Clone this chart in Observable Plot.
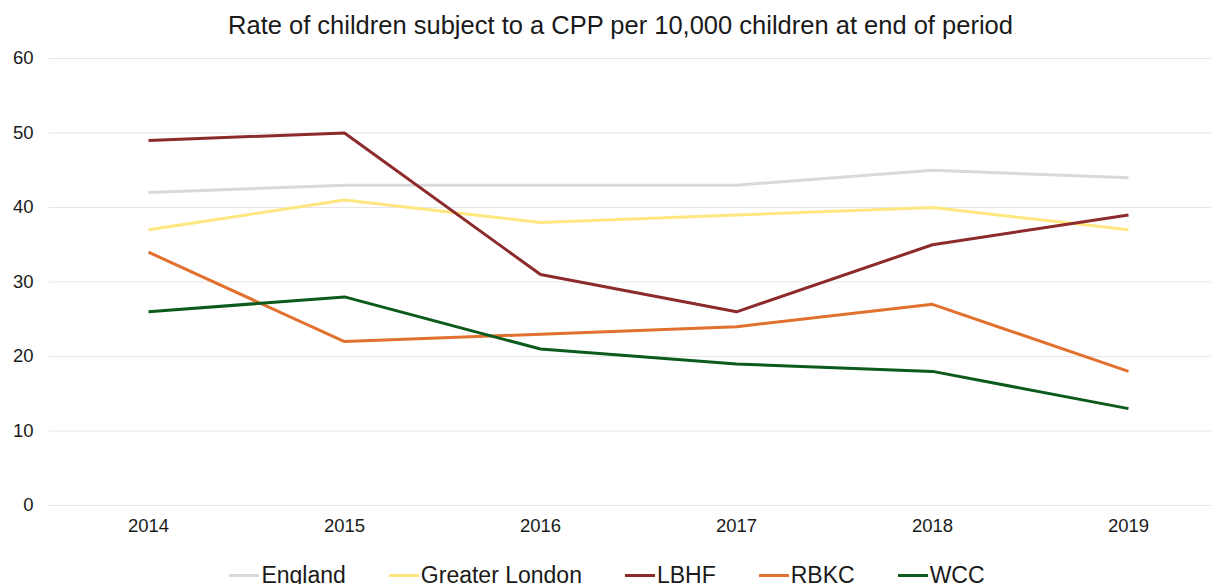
<!DOCTYPE html>
<html>
<head>
<meta charset="utf-8">
<script src="https://cdn.jsdelivr.net/npm/d3@7"></script>
<script src="https://cdn.jsdelivr.net/npm/@observablehq/plot@0.6"></script>
<style>
  html, body { margin: 0; padding: 0; background: #fff; overflow: hidden; }
  body { width: 1211px; height: 584px; font-family: "Liberation Sans", Arial, sans-serif; }
  #title { height: 48px; line-height: 50px; text-align: center; font-size: 25.5px; color: #1a1a1a; padding-left: 30px; }
  #legend { display: flex; justify-content: center; gap: 43px; font-size: 23px; color: #1a1a1a; margin-top: 17px; padding-left: 3px; }
  .item { display: flex; align-items: center; }
  .swatch { width: 30px; height: 3px; margin-right: 2px; }
</style>
</head>
<body>
<div id="title">Rate of children subject to a CPP per 10,000 children at end of period</div>
<div id="chart"></div>
<div id="legend"></div>
<script>
// Years on the x axis
const years = ["2014", "2015", "2016", "2017", "2018", "2019"];
// Rate per 10,000 children, one array per area
const england = [42, 43, 43, 43, 45, 44];
const greaterLondon = [37, 41, 38, 39, 40, 37];
const lbhf = [49, 50, 31, 26, 35, 39];
const rbkc = [34, 22, 23, 24, 27, 18];
const wcc = [26, 28, 21, 19, 18, 13];
const yTicks = [0, 10, 20, 30, 40, 50, 60];

const seriesNames = ["England", "Greater London", "LBHF", "RBKC", "WCC"];
const seriesValues = [england, greaterLondon, lbhf, rbkc, wcc];
const seriesColors = ["#d9d9d9", "#ffe67f", "#8c2a2c", "#e2702f", "#0c5a1c"];

const rows = seriesNames.flatMap((name, i) =>
  years.map((year, j) => ({ area: name, year, value: seriesValues[i][j] }))
);

const chart = Plot.plot({
  width: 1211,
  height: 497,
  marginTop: 10,
  marginLeft: 49,
  marginRight: 0,
  marginBottom: 40,
  style: { fontFamily: "'Liberation Sans', Arial, sans-serif", fontSize: "18.5px", color: "#1a1a1a" },
  x: { type: "point", domain: years, range: [147, 1128], padding: 0, label: null },
  y: { domain: [0, 60], ticks: yTicks, label: null },
  marks: [
    // horizontal gridlines across the full frame
    Plot.ruleY(yTicks, { stroke: "#e6e6e6", strokeWidth: 1 }),
    Plot.axisY(yTicks, { tickSize: 0, tickPadding: 16, fontSize: 18.5, label: null }),
    Plot.axisX({ tickSize: 0, tickPadding: 13, fontSize: 18.5, label: null }),
    ...seriesNames.map((name, i) =>
      Plot.line(rows.filter(d => d.area === name), {
        x: "year", y: "value",
        stroke: seriesColors[i], strokeWidth: 3,
        strokeLinejoin: "miter", strokeLinecap: "butt"
      })
    )
  ]
});
document.getElementById("chart").appendChild(chart);

const legend = document.getElementById("legend");
seriesNames.forEach((name, i) => {
  const item = document.createElement("div");
  item.className = "item";
  const sw = document.createElement("span");
  sw.className = "swatch";
  sw.style.background = seriesColors[i];
  const label = document.createElement("span");
  label.textContent = name;
  item.appendChild(sw);
  item.appendChild(label);
  legend.appendChild(item);
});
</script>
</body>
</html>
